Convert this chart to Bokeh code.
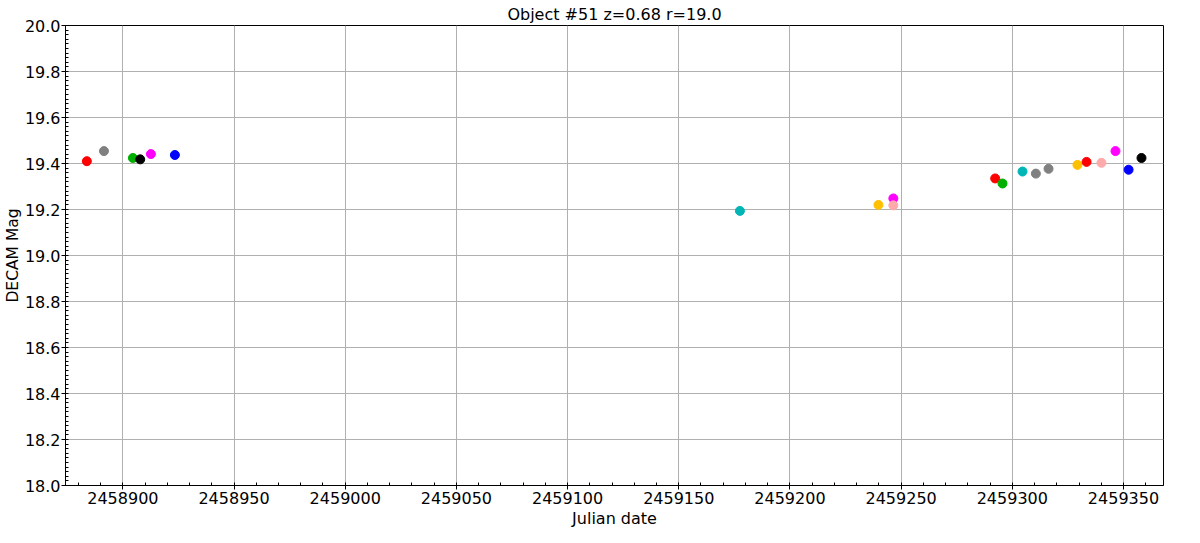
from bokeh.plotting import figure
from bokeh.models import ColumnDataSource, SingleIntervalTicker, NumeralTickFormatter, Range1d, Title
from bokeh.embed import file_html
from bokeh.resources import INLINE

jd = [2458883.8, 2458891.5, 2458904.5, 2458907.8, 2458912.6, 2458923.4,
      2459177.5, 2459239.8, 2459246.5, 2459246.5,
      2459292.3, 2459295.6, 2459304.6, 2459310.6, 2459316.3, 2459329.3,
      2459333.4, 2459340.1, 2459346.4, 2459352.3, 2459358.1]
mag = [19.41, 19.454, 19.424, 19.418, 19.441, 19.437,
       19.194, 19.22, 19.248, 19.218,
       19.335, 19.313, 19.365, 19.356, 19.377, 19.394,
       19.407, 19.403, 19.454, 19.373, 19.424]
colors = ["#ff0000", "#808080", "#00b000", "#000000", "#ff00ff", "#0000ff",
          "#00b5b5", "#ffc000", "#ff00ff", "#ffaaaa",
          "#ff0000", "#00b000", "#00b5b5", "#808080", "#808080", "#ffc000",
          "#ff0000", "#ffaaaa", "#ff00ff", "#0000ff", "#000000"]

title = "Object #51 z=0.68 r=19.0"
xlabel = "Julian date"
ylabel = "DECAM Mag"

x_lo, x_hi = 2458874.2, 2459368.0
y_lo, y_hi = 18.0, 20.0

src = ColumnDataSource(dict(x=jd, y=mag, c=colors))

p = figure(width=1184, height=527, output_backend="svg", toolbar_location=None,
           x_range=Range1d(x_lo, x_hi), y_range=Range1d(y_lo, y_hi),
           min_border_left=0, min_border_right=21, min_border_top=0, min_border_bottom=0)

p.title.text = title
p.title.align = "center"
p.title.text_font = "DejaVu Sans"
p.title.text_font_size = "16px"
p.title.text_font_style = "normal"
p.title.text_color = "black"
p.title.standoff = 4
p.title.offset = 0

p.scatter("x", "y", source=src, size=9, fill_color="c", line_color="c")

p.xaxis.ticker = SingleIntervalTicker(interval=50, num_minor_ticks=5)
p.yaxis.ticker = SingleIntervalTicker(interval=0.2, num_minor_ticks=10)
p.xaxis.formatter = NumeralTickFormatter(format="0")
p.yaxis.formatter = NumeralTickFormatter(format="0.0")
p.yaxis.axis_label = ylabel
p.xaxis.axis_label = None

for ax in (p.xaxis[0], p.yaxis[0]):
    ax.axis_label_text_font = "DejaVu Sans"
    ax.axis_label_text_font_size = "15.5px"
    ax.axis_label_text_font_style = "normal"
    ax.axis_label_text_color = "black"
    ax.major_label_text_font = "DejaVu Sans"
    ax.major_label_text_font_size = "16px"
    ax.major_label_text_color = "black"
    ax.axis_line_color = "black"
    ax.major_tick_line_color = "black"
    ax.minor_tick_line_color = "black"
    ax.major_tick_in = 0
    ax.major_tick_out = 4
    ax.minor_tick_in = 3
    ax.minor_tick_out = 0
    ax.axis_label_standoff = 0
    ax.major_label_standoff = 1
p.xaxis.major_label_standoff = 2

# x-axis title as a bottom title panel, centred under the frame
xt = Title(text=xlabel, align="center", standoff=0, offset=0,
           text_font="DejaVu Sans", text_font_size="16px",
           text_font_style="normal", text_color="black")
p.add_layout(xt, "below")

p.xgrid.grid_line_color = "#b0b0b0"
p.ygrid.grid_line_color = "#b0b0b0"
p.xgrid.grid_line_width = 1
p.ygrid.grid_line_width = 1
p.outline_line_color = "black"
p.outline_line_width = 1
p.outline_line_alpha = 1

open("out.html", "w").write(file_html(p, INLINE))
